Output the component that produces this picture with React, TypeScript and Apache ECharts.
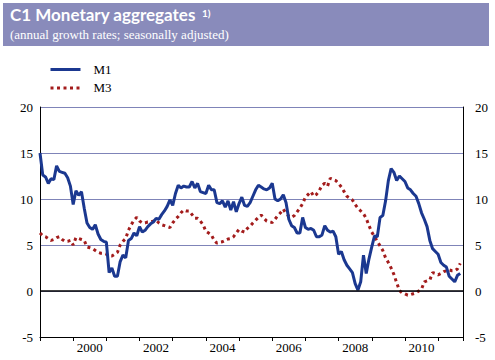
import React, { useEffect, useRef } from "react";
import * as echarts from "echarts";

const startYear = 1999;
const yTicks = [-5, 0, 5, 10, 15, 20];
const yearLabels = [2000, 2002, 2004, 2006, 2008, 2010];

// M1 annual growth, monthly from Jan 1999
const m1 = [
  15.0, 12.6, 12.4, 11.7, 12.2, 12.1, 13.6, 13.0, 12.9, 12.8, 12.3, 11.4,
  9.4, 10.9, 10.4, 10.8, 9.0, 7.4, 6.9, 6.7, 7.2, 6.2, 5.6, 5.4,
  5.3, 2.0, 2.5, 1.6, 1.6, 3.2, 3.9, 3.6, 5.5, 5.7, 6.3, 6.0,
  7.0, 6.4, 6.6, 7.0, 7.3, 7.5, 7.9, 7.8, 8.3, 8.7, 9.2, 9.9,
  9.3, 10.6, 11.5, 11.2, 11.4, 11.3, 11.3, 11.9, 11.2, 11.7, 10.8, 10.7,
  10.6, 11.5, 11.0, 11.0, 9.6, 9.5, 9.8, 9.1, 9.8, 8.8, 9.7, 8.6,
  9.5, 10.2, 9.3, 9.2, 9.6, 10.3, 11.0, 11.5, 11.3, 11.1, 11.0, 11.2,
  11.7, 10.0, 9.8, 10.0, 10.45, 9.6, 7.8, 7.1, 6.9, 6.3, 6.3, 8.0,
  6.9, 6.7, 6.8, 6.6, 5.9, 5.9, 6.1, 7.1, 6.6, 6.4, 6.5, 5.9,
  4.0, 4.3, 3.4, 2.8, 2.4, 2.0, 0.8, 0.1, 1.0, 3.9, 1.9, 3.5,
  4.8, 6.0, 5.9, 8.0, 8.2, 9.8, 12.0, 13.3, 12.9, 12.0, 12.5, 12.2,
  11.9, 11.2, 11.0, 10.6, 10.3, 9.5, 8.5, 7.8, 7.0, 5.5, 4.6, 4.3,
  4.0, 3.1, 2.8, 2.6, 1.6, 1.3, 1.0, 1.7, 1.9,
];

// M3 annual growth, monthly from Jan 1999
const m3 = [
  6.3, 6.0, 5.9, 5.7, 5.5, 5.6, 5.8, 5.9, 5.6, 5.4, 5.4, 5.5,
  5.0, 5.8, 5.7, 5.6, 5.5, 4.8, 4.7, 4.6, 4.4, 4.2, 4.1, 4.1,
  4.0, 3.8, 3.8, 4.0, 4.2, 5.0, 5.4, 5.7, 6.6, 7.2, 7.7, 8.0,
  7.6, 7.4, 7.4, 7.5, 7.5, 7.6, 7.7, 7.4, 7.2, 7.1, 7.0, 6.9,
  7.4, 7.8, 8.1, 8.5, 8.8, 8.7, 8.7, 8.3, 7.9, 7.9, 7.6, 7.2,
  6.5, 6.3, 6.1, 5.5, 5.2, 5.3, 5.35, 5.5, 5.65, 5.7, 5.9, 6.3,
  6.7, 6.5, 6.4, 6.8, 7.05, 7.4, 7.7, 8.0, 8.25, 7.9, 7.6, 7.5,
  7.45, 7.8, 8.2, 8.5, 8.9, 8.4, 8.15, 8.0, 8.2, 8.6, 9.0, 9.5,
  10.2, 10.5, 10.8, 10.3, 10.5, 10.9, 11.5, 11.7, 11.4, 12.25, 12.1, 12.0,
  11.7, 11.3, 10.8, 10.3, 10.1, 9.9, 9.4, 9.0, 8.7, 8.4, 7.9, 7.1,
  6.4, 5.9, 5.4, 4.9, 4.4, 3.6, 3.1, 2.5, 1.8, 0.9, 0.05, -0.2,
  -0.3, -0.45, -0.4, -0.3, -0.2, 0.0, 0.2, 1.0, 1.1, 1.2, 2.0, 1.9,
  1.75, 1.9, 2.1, 2.2, 2.3, 2.2, 2.2, 2.4, 3.0,
];

const toPoints = (arr: number[]) => arr.map((v, i) => [startYear + i / 12, v]);

const serif = "Liberation Serif";
const gridColor = "#7f84b8";

export default function App() {
  const ref = useRef<HTMLDivElement>(null);
  useEffect(() => {
    if (!ref.current) return;
    const chart = echarts.init(ref.current, null, { renderer: "svg" });
    const yAxisBase = {
      type: "value" as const,
      min: yTicks[0],
      max: yTicks[yTicks.length - 1],
      interval: 5,
      axisTick: { show: false },
      axisLine: { show: true, lineStyle: { color: "#000", width: 1 } },
    };
    chart.setOption({
      animation: false,
      backgroundColor: "#fff",
      grid: { left: 40, right: 32, top: 107, bottom: 23 },
      graphic: [
        { type: "rect", left: 3, top: 3, shape: { width: 486, height: 43 }, style: { fill: "#898bbb" }, z: 0 },
        {
          type: "text", left: 10, top: 6,
          style: { text: "C1 Monetary aggregates", fill: "#fff", font: "bold 17px Lato" },
        },
        {
          type: "text", left: 202, top: 8,
          style: { text: "1)", fill: "#fff", font: "bold 10px Lato" },
        },
        {
          type: "text", left: 10, top: 28,
          style: { text: "(annual growth rates; seasonally adjusted)", fill: "#fff", font: `13px '${serif}'` },
        },
      ],
      legend: {
        orient: "vertical",
        left: 49,
        top: 63,
        padding: 0,
        itemWidth: 30,
        itemHeight: 12,
        itemGap: 5.4,
        itemStyle: { opacity: 0 },
        lineStyle: { width: 3 },
        textStyle: { fontFamily: serif, fontSize: 13, color: "#000", padding: [0, 0, 0, 8] },
        data: ["M1", "M3"],
      },
      xAxis: [
        {
          type: "value",
          min: startYear,
          max: 2011.75,
          interval: 1,
          axisLine: { onZero: false, lineStyle: { color: "#000", width: 1 } },
          axisTick: { show: true, length: 4, lineStyle: { color: "#000" } },
          axisLabel: { show: false },
          splitLine: { show: false },
        },
        {
          type: "value",
          position: "bottom",
          min: 1998.5,
          max: 2011.25,
          interval: 0.5,
          axisLine: { show: false, onZero: false },
          axisTick: { show: false },
          splitLine: { show: false },
          axisLabel: {
            margin: 4,
            fontFamily: serif,
            fontSize: 13,
            color: "#000",
            formatter: (v: number) => (yearLabels.includes(v) ? String(v) : ""),
          },
        },
      ],
      yAxis: [
        {
          ...yAxisBase,
          position: "left",
          splitLine: { show: true, lineStyle: { color: gridColor, width: 1 } },
          axisLabel: { margin: 7, fontFamily: serif, fontSize: 13, color: "#000" },
        },
        {
          ...yAxisBase,
          position: "right",
          splitLine: { show: false },
          axisLabel: { margin: 12, fontFamily: serif, fontSize: 13, color: "#000" },
        },
      ],
      series: [
        {
          name: "M1",
          type: "line",
          xAxisIndex: 0,
          yAxisIndex: 0,
          data: toPoints(m1),
          symbol: "none",
          color: "#1b3890",
          lineStyle: { color: "#1b3890", width: 3 },
          z: 3,
          markLine: {
            silent: true,
            symbol: "none",
            label: { show: false },
            lineStyle: { color: "#000", width: 1.5, type: "solid" },
            data: [{ yAxis: 0 }],
          },
        },
        {
          name: "M3",
          type: "line",
          xAxisIndex: 0,
          yAxisIndex: 0,
          data: toPoints(m3),
          symbol: "none",
          color: "#a31c1c",
          lineStyle: { color: "#a31c1c", width: 3, type: [3, 3.5] },
          z: 2,
        },
      ],
    });
    return () => chart.dispose();
  }, []);
  return <div ref={ref} style={{ width: 495, height: 360, position: "absolute", left: 0, top: 0 }} />;
}
